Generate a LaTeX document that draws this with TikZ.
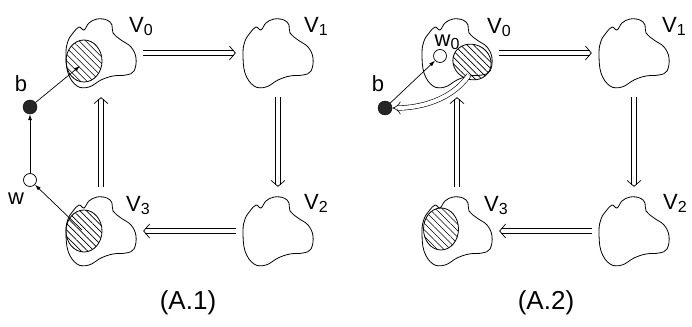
\documentclass[tikz,border=0pt]{standalone}
\usepackage{fontspec}
\setmainfont{Liberation Sans}
\usetikzlibrary{arrows.meta,patterns.meta,shapes.geometric,decorations.markings}
\newcommand{\Vsub}[1]{V\raisebox{-3pt}{\fontsize{16}{16}\selectfont #1}}
\begin{document}
\begin{tikzpicture}[x=1pt,y=-1pt,
  blobbox/.style={minimum width=84pt,minimum height=88pt,inner sep=0pt},
  blobshape/.pic={\draw[line width=0.8pt] plot[smooth cycle,tension=0.65] coordinates {
     (-28,-20) (-22,-26) (-17,-23) (-12,-30) (-4,-34) (6,-33) (11,-28) (12,-20)
     (20,-13) (30,-6) (35,5) (33,18) (25,22) (12,23) (0,27) (-12,34) (-24,33)
     (-33,20) (-35,0) (-33,-12)};},
  hatch/.style={ellipse,draw,line width=0.8pt,inner sep=0pt,
     pattern={Lines[angle=-45,distance=4.6pt,line width=0.6pt]}},
  chevron/.style={postaction={decorate,decoration={markings,
     mark=at position 1 with {\arrow[line width=0.7pt]{Straight Barb[length=6pt,width=14pt]}}}}},
  hdbl/.style={draw=none,
     postaction={draw,line width=0.7pt,shorten >=2.2pt,transform canvas={yshift=2.5pt}},
     postaction={draw,line width=0.7pt,shorten >=2.2pt,transform canvas={yshift=-2.5pt}},
     chevron},
  vdbl/.style={draw=none,
     postaction={draw,line width=0.7pt,shorten >=2.2pt,transform canvas={xshift=2.5pt}},
     postaction={draw,line width=0.7pt,shorten >=2.2pt,transform canvas={xshift=-2.5pt}},
     chevron},
  darr/.style={double,double distance=4pt,line width=0.6pt,-{Implies}},
  sarr/.style={line width=0.7pt,-{Latex[length=6pt,width=4pt]}},
  bdot/.style={circle,draw,fill=black!85,minimum size=14pt,inner sep=0pt},
  wdot/.style={circle,draw,fill=white,minimum size=13pt,inner sep=0pt,line width=0.7pt},
  lbl/.style={inner sep=0pt,font=\fontsize{22}{22}\selectfont},
  captxt/.style={inner sep=0pt,font=\fontsize{26}{26}\selectfont}]
\useasboundingbox (0,0) rectangle (692,326);
% ---------- panel A.1 ----------
\path (101,53) node[blobbox] (a0) {} pic{blobshape};
\path (278,53) node[blobbox] (a1) {} pic{blobshape};
\path (278,231) node[blobbox] (a2) {} pic{blobshape};
\path (101,231) node[blobbox] (a3) {} pic{blobshape};
\node[hatch,minimum width=36pt,minimum height=42pt] (ha0) at (84,61) {};
\node[hatch,minimum width=36pt,minimum height=42pt] (ha3) at (84,231) {};
\node[lbl] (la0) at (141,27) {\Vsub{0}};
\node[lbl] (la1) at (316,26) {\Vsub{1}};
\node[lbl] (la2) at (316,203) {\Vsub{2}};
\node[lbl] (la3) at (138,206) {\Vsub{3}};
\node[bdot] (ab) at (30,107) {};
\node[wdot] (aw) at (30,180) {};
\node[lbl] (lab) at (21,84) {b};
\node[lbl] (law) at (16,199) {w};
\coordinate (at0) at (80,66);
\coordinate (as3) at (82,230);
\draw[sarr] (ab) -- (at0);
\draw[sarr] (aw) -- (ab);
\draw[sarr] (as3) -- (aw);
\path[hdbl] (a0.east) -- (a1.west);
\path[vdbl] (a1.south) -- (a2.north);
\path[hdbl] (a2.west) -- (a3.east);
\path[vdbl] (a3.north) -- (a0.south);
\node[captxt] (capa) at (188,303) {(A.1)};
% ---------- panel A.2 ----------
\path (457,53) node[blobbox] (b0) {} pic{blobshape};
\path (634,53) node[blobbox] (b1) {} pic{blobshape};
\path (634,231) node[blobbox] (b2) {} pic{blobshape};
\path (457,231) node[blobbox] (b3) {} pic{blobshape};
\node[hatch,minimum width=39pt,minimum height=35pt,rotate=-25] (hb0) at (472,62) {};
\node[hatch,minimum width=35pt,minimum height=42pt] (hb3) at (441,229) {};
\node[lbl] (lb0) at (499,28) {\Vsub{0}};
\node[lbl] (lb1) at (674,26) {\Vsub{1}};
\node[lbl] (lb2) at (675,203) {\Vsub{2}};
\node[lbl] (lb3) at (496,206) {\Vsub{3}};
\node[bdot] (bb) at (385,108) {};
\node[wdot] (bw) at (440,56) {};
\node[lbl] (lbb) at (378,84) {b};
\node[lbl] (lbw) at (447,42) {w\raisebox{-3pt}{\fontsize{16}{16}\selectfont 0}};
\coordinate (bs0) at (469,75);
\draw[sarr] (bb) -- (bw);
\draw[darr] (bs0) .. controls (452,100) and (420,108) .. (bb);
\path[hdbl] (b0.east) -- (b1.west);
\path[vdbl] (b1.south) -- (b2.north);
\path[hdbl] (b2.west) -- (b3.east);
\path[vdbl] (b3.north) -- (b0.south);
\node[captxt] (capb) at (546,303) {(A.2)};
\end{tikzpicture}
\end{document}
